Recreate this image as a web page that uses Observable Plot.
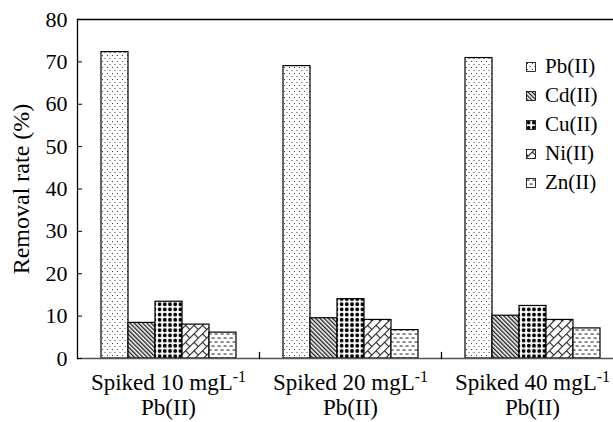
<!DOCTYPE html>
<html>
<head>
<meta charset="utf-8">
<script src="https://cdn.jsdelivr.net/npm/d3@7"></script>
<script src="https://cdn.jsdelivr.net/npm/@observablehq/plot@0.6"></script>
<style>
  html, body { margin: 0; padding: 0; background: #fff; }
  #wrap { position: relative; width: 613px; height: 422px; font-family: "Liberation Serif", "Times New Roman", serif; }
  #legend { position: absolute; left: 526px; top: 52px; font-size: 21px; color: #000; }
  #legend .row { display: flex; align-items: center; height: 29px; }
  #legend svg { margin-right: 9px; flex: none; }
</style>
</head>
<body>
<div id="wrap"></div>
<script>
// ---- data ----
const categories = ["Spiked 10 mgL-1\nPb(II)", "Spiked 20 mgL-1\nPb(II)", "Spiked 40 mgL-1\nPb(II)"];
const metals = ["Pb(II)", "Cd(II)", "Cu(II)", "Ni(II)", "Zn(II)"];
const pbValues = [72.3, 69.0, 70.9];
const cdValues = [8.4, 9.5, 10.1];
const cuValues = [13.4, 14.0, 12.4];
const niValues = [8.0, 9.1, 9.1];
const znValues = [6.1, 6.7, 7.1];
const yTicks = [0, 10, 20, 30, 40, 50, 60, 70, 80];
const yLabel = "Removal rate (%)";

const series = [pbValues, cdValues, cuValues, niValues, znValues];
const rows = [];
categories.forEach((c, i) => metals.forEach((m, j) => rows.push({cat: c, metal: m, value: series[j][i]})));

const patternIds = ["pPb", "pCd", "pCu", "pNi", "pZn"];
const patternUrls = patternIds.map(id => `url(#${id})`);

const defs = `
<defs>
  <pattern id="pPb" patternUnits="userSpaceOnUse" width="5" height="6">
    <rect width="5" height="6" fill="#fff"/>
    <rect x="1" y="1" width="1" height="1" fill="#444"/>
    <rect x="3.5" y="4" width="1" height="1" fill="#444"/>
  </pattern>
  <pattern id="pCd" patternUnits="userSpaceOnUse" width="3" height="3" patternTransform="rotate(-45)">
    <rect width="3" height="3" fill="#fff"/>
    <rect x="0" y="0" width="1.4" height="3" fill="#222"/>
  </pattern>
  <pattern id="pCu" patternUnits="userSpaceOnUse" width="5.2" height="5.2">
    <rect width="5.2" height="5.2" fill="#fff"/>
    <circle cx="2.6" cy="2.6" r="1.9" fill="#000"/>
  </pattern>
  <pattern id="pNi" patternUnits="userSpaceOnUse" width="12" height="12" patternTransform="rotate(45)">
    <rect width="12" height="12" fill="#fff"/>
    <rect x="0" y="0" width="1.1" height="12" fill="#222"/>
    <rect x="6" y="0" width="1.1" height="12" fill="#222"/>
    <rect x="0" y="3" width="6" height="1.1" fill="#222"/>
    <rect x="6" y="9" width="6" height="1.1" fill="#222"/>
  </pattern>
  <pattern id="pZn" patternUnits="userSpaceOnUse" width="6" height="8">
    <rect width="6" height="8" fill="#fff"/>
    <rect x="0.5" y="1.5" width="3.2" height="1.1" fill="#333"/>
    <rect x="3.5" y="5.5" width="3.2" height="1.1" fill="#333"/>
    <rect x="-2.5" y="5.5" width="3.2" height="1.1" fill="#333"/>
  </pattern>
</defs>`;

const chart = Plot.plot({
  width: 613,
  height: 422,
  marginLeft: 76,
  marginTop: 19,
  marginBottom: 64,
  marginRight: 0,
  style: {fontFamily: "'Liberation Serif', 'Times New Roman', serif", fontSize: "22px", color: "#000", background: "#fff", overflow: "hidden"},
  fx: {domain: categories, range: [76, 623], paddingInner: 0, paddingOuter: 0, label: null},
  x: {domain: metals, paddingInner: 0, paddingOuter: 0.755, axis: null},
  y: {domain: [0, 80], label: yLabel},
  color: {domain: metals, range: patternUrls, type: "ordinal"},
  marks: [
    Plot.barY(rows, {fx: "cat", x: "metal", y: "value", fill: "metal", stroke: "#000", strokeWidth: 1.2}),
    Plot.ruleY([80], {stroke: "#000", strokeWidth: 1.3}),
    Plot.ruleY([0], {stroke: "#555", strokeWidth: 1.6}),
    Plot.frame({anchor: "left", facetAnchor: "left", stroke: "#000", strokeWidth: 1.3}),
    Plot.vector([{cat: categories[0]}, {cat: categories[1]}], {fx: "cat", frameAnchor: "bottom-right", length: 6, rotate: 0, anchor: "start", shape: "spike", r: 0, stroke: "#000", strokeWidth: 1.3}),
    Plot.axisY({ticks: yTicks, tickSize: -5, tickPadding: 15, fontSize: 22, label: null}),
    Plot.axisY({ticks: [], tickSize: 0, label: yLabel, labelAnchor: "center", labelArrow: "none", labelOffset: 66, fontSize: 24}),
    Plot.axisFx({anchor: "bottom", tickSize: 0, tickPadding: 13, lineHeight: 1.11, label: null, fontSize: 23})
  ]
});

chart.insertAdjacentHTML("afterbegin", defs);

// raise the "-1" of mgL-1 as a superscript
chart.querySelectorAll("tspan").forEach(ts => {
  const t = ts.textContent;
  if (t.endsWith("-1")) {
    ts.textContent = t.slice(0, -2);
    const sup = document.createElementNS("http://www.w3.org/2000/svg", "tspan");
    sup.setAttribute("baseline-shift", "super");
    sup.setAttribute("font-size", "16");
    sup.textContent = "-1";
    ts.appendChild(sup);
  }
});

document.getElementById("wrap").appendChild(chart);

// legend
const legend = document.createElement("div");
legend.id = "legend";
metals.forEach((m, j) => {
  const row = document.createElement("div");
  row.className = "row";
  row.innerHTML = `<svg width="10" height="10"><rect x="0.5" y="0.5" width="9" height="9" fill="${patternUrls[j]}" stroke="#000" stroke-width="0.8"/></svg><span>${m}</span>`;
  legend.appendChild(row);
});
document.getElementById("wrap").appendChild(legend);
</script>
</body>
</html>
